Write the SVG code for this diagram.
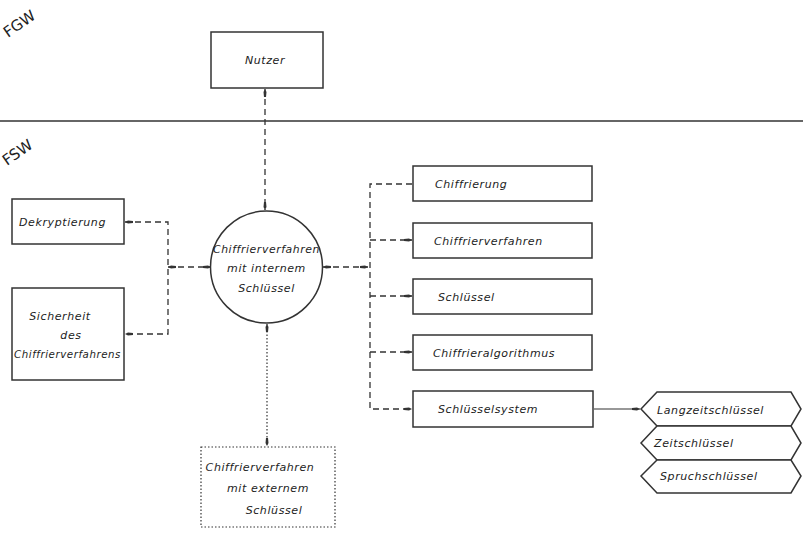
<svg xmlns="http://www.w3.org/2000/svg" width="803" height="537" viewBox="0 0 803 537">
<style>
.box{fill:#fff;stroke:#333;stroke-width:1.5}
.dot{fill:none;stroke:#333;stroke-width:1.2;stroke-dasharray:1.5,2}
.t{font-family:"DejaVu Sans","Liberation Sans",sans-serif;font-style:italic;font-size:11px;fill:#222;letter-spacing:0.6px}
.lbl{font-family:"DejaVu Sans","Liberation Sans",sans-serif;font-size:15px;fill:#222}
.d{fill:none;stroke:#333;stroke-width:1.3;stroke-dasharray:6,4}
.s{fill:none;stroke:#333;stroke-width:1.2}
</style>
<defs>
<marker id="a" viewBox="0 0 8 6" refX="8" refY="3" markerWidth="8" markerHeight="6" markerUnits="userSpaceOnUse" orient="auto">
<path d="M0,2 L5,1.5 L8,3 L5,4.5 L0,4 Z" fill="#333"/>
</marker>
<marker id="b" viewBox="0 0 8 6" refX="0" refY="3" markerWidth="8" markerHeight="6" markerUnits="userSpaceOnUse" orient="auto">
<path d="M8,2 L3,1.5 L0,3 L3,4.5 L8,4 Z" fill="#333"/>
</marker>
</defs>
<line x1="0" y1="121" x2="803" y2="121" stroke="#333" stroke-width="1.6"/>
<text class="lbl" transform="translate(8,38) rotate(-35)">FGW</text>
<text class="lbl" transform="translate(7,166) rotate(-35)">FSW</text>

<g id="connectors">
<line class="d" x1="265" y1="89" x2="265" y2="210" marker-start="url(#b)" marker-end="url(#a)"/>
<line class="dot" x1="267" y1="324" x2="267" y2="446" marker-start="url(#b)" marker-end="url(#a)"/>
<polyline class="d" points="125,222 168,222 168,334 125,334" marker-start="url(#b)" marker-end="url(#a)"/>
<line class="d" x1="168" y1="267" x2="211" y2="267" marker-start="url(#b)" marker-end="url(#a)"/>
<line class="d" x1="323" y1="267" x2="368" y2="267" marker-start="url(#b)" marker-end="url(#a)"/>
<polyline class="d" points="412,184 370,184 370,409 412,409" marker-end="url(#a)"/>
<line class="d" x1="370" y1="240" x2="412" y2="240" marker-end="url(#a)"/>
<line class="d" x1="370" y1="296" x2="412" y2="296" marker-end="url(#a)"/>
<line class="d" x1="370" y1="352" x2="412" y2="352" marker-end="url(#a)"/>
<line class="s" x1="594" y1="409" x2="640" y2="409" marker-end="url(#a)"/>
</g>

<g id="nutzer"><rect class="box" x="211" y="32" width="112" height="56"/><text class="t" x="265" y="64" text-anchor="middle">Nutzer</text></g>

<g id="intern"><circle class="box" cx="266.5" cy="267" r="56"/>
<text class="t" x="213" y="253" textLength="107" lengthAdjust="spacingAndGlyphs" letter-spacing="0">Chiffrierverfahren</text>
<text class="t" x="266.5" y="272" text-anchor="middle">mit internem</text>
<text class="t" x="266.5" y="292" text-anchor="middle">Schlüssel</text></g>

<g id="dekryptierung"><rect class="box" x="12" y="199" width="112" height="45"/><text class="t" x="19" y="226">Dekryptierung</text></g>

<g id="sicherheit"><rect class="box" x="12" y="288" width="112" height="92"/>
<text class="t" x="60" y="320" text-anchor="middle">Sicherheit</text>
<text class="t" x="71" y="339" text-anchor="middle">des</text>
<text class="t" x="14" y="358" textLength="107" lengthAdjust="spacingAndGlyphs" letter-spacing="0">Chiffrierverfahrens</text></g>

<g id="extern"><rect class="dot" x="201" y="447" width="134" height="80"/>
<text class="t" x="260" y="471" text-anchor="middle">Chiffrierverfahren</text>
<text class="t" x="268" y="492" text-anchor="middle">mit externem</text>
<text class="t" x="274" y="514" text-anchor="middle">Schlüssel</text></g>

<g id="chiffrierung"><rect class="box" x="413" y="166" width="179" height="35"/><text class="t" x="435" y="188">Chiffrierung</text></g>
<g id="chiffrierverfahren"><rect class="box" x="413" y="223" width="179" height="35"/><text class="t" x="434" y="245">Chiffrierverfahren</text></g>
<g id="schluessel"><rect class="box" x="413" y="279" width="179" height="35"/><text class="t" x="438" y="301">Schlüssel</text></g>
<g id="algorithmus"><rect class="box" x="413" y="335" width="179" height="35"/><text class="t" x="433" y="357">Chiffrieralgorithmus</text></g>
<g id="schluesselsystem"><rect class="box" x="413" y="391" width="180" height="36"/><text class="t" x="438" y="413">Schlüsselsystem</text></g>

<g id="langzeit"><polygon class="box" points="641,409 657,392 791,392 801,409 791,426 657,426"/><text class="t" x="657" y="414">Langzeitschlüssel</text></g>
<g id="zeit"><polygon class="box" points="641,443 657,426 791,426 801,443 791,460 657,460"/><text class="t" x="654" y="447">Zeitschlüssel</text></g>
<g id="spruch"><polygon class="box" points="641,476 657,460 791,460 801,476 791,493 657,493"/><text class="t" x="660" y="480">Spruchschlüssel</text></g>
</svg>
